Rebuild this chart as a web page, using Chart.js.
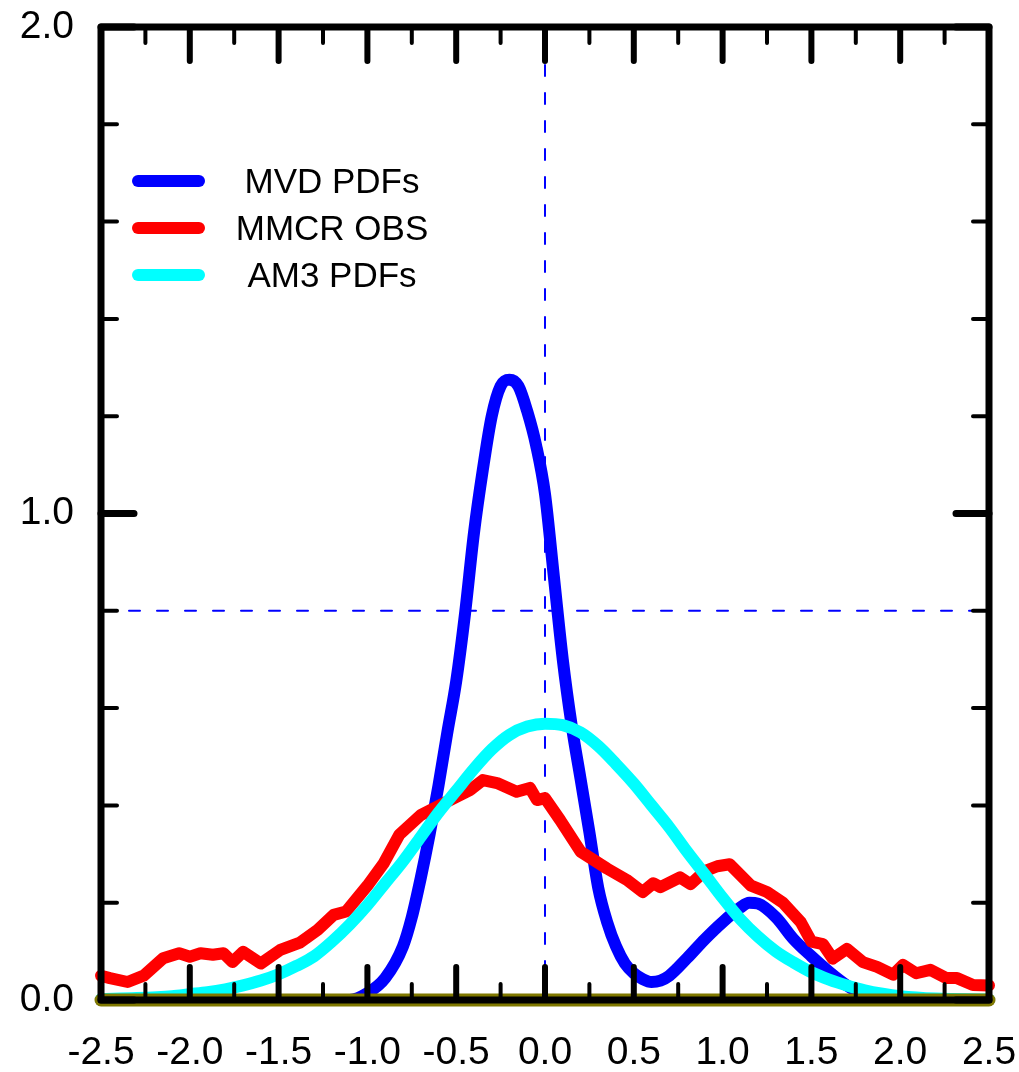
<!DOCTYPE html>
<html>
<head>
<meta charset="utf-8">
<script src="https://cdn.jsdelivr.net/npm/chart.js@4.4.0/dist/chart.umd.min.js"></script>
<style>
    body { margin: 0; background: #ffffff; }
    canvas { display: block; }
</style>
</head>
<body>
<canvas id="chartPdfs" width="1019" height="1072"></canvas>
<script>
// datos
const mvdX = [-2.5, -1.5, -1.1, -1.0, -0.9, -0.8, -0.75, -0.7, -0.65, -0.6, -0.55, -0.5, -0.45, -0.4, -0.35, -0.3, -0.25, -0.2, -0.15, -0.1, -0.05, 0.0, 0.05, 0.1, 0.15, 0.2, 0.25, 0.3, 0.35, 0.4, 0.45, 0.5, 0.55, 0.6, 0.65, 0.7, 0.8, 0.9, 1.0, 1.1, 1.15, 1.2, 1.3, 1.4, 1.5, 1.6, 1.7, 1.8, 1.9, 2.5];
const mvdY = [0, 0, 0, 0.014, 0.045, 0.11, 0.17, 0.25, 0.34, 0.44, 0.55, 0.655, 0.795, 0.96, 1.09, 1.2, 1.262, 1.275, 1.262, 1.21, 1.14, 1.04, 0.87, 0.70, 0.565, 0.455, 0.345, 0.23, 0.16, 0.11, 0.075, 0.055, 0.043, 0.037, 0.04, 0.05, 0.086, 0.125, 0.16, 0.19, 0.2, 0.198, 0.17, 0.125, 0.09, 0.058, 0.03, 0.01, 0, 0];

const mmcrX = [-2.5, -2.45, -2.35, -2.26, -2.15, -2.06, -2.0, -1.94, -1.87, -1.81, -1.76, -1.70, -1.60, -1.49, -1.38, -1.28, -1.19, -1.12, -1.0, -0.91, -0.82, -0.70, -0.62, -0.535, -0.42, -0.35, -0.27, -0.16, -0.085, -0.045, 0.0, 0.085, 0.2, 0.35, 0.46, 0.55, 0.61, 0.65, 0.76, 0.82, 0.9, 0.97, 1.04, 1.16, 1.25, 1.34, 1.44, 1.50, 1.565, 1.62, 1.70, 1.79, 1.87, 1.96, 2.015, 2.09, 2.17, 2.26, 2.32, 2.41, 2.5];
const mmcrY = [0.05, 0.045, 0.037, 0.05, 0.086, 0.096, 0.089, 0.096, 0.093, 0.096, 0.078, 0.099, 0.075, 0.103, 0.118, 0.144, 0.175, 0.182, 0.235, 0.28, 0.34, 0.38, 0.395, 0.411, 0.432, 0.452, 0.446, 0.428, 0.436, 0.411, 0.415, 0.37, 0.305, 0.27, 0.247, 0.222, 0.24, 0.232, 0.252, 0.238, 0.265, 0.275, 0.279, 0.235, 0.222, 0.2, 0.16, 0.12, 0.115, 0.085, 0.105, 0.078, 0.068, 0.052, 0.072, 0.055, 0.062, 0.045, 0.045, 0.031, 0.03];

const am3X = [-2.5, -2.3, -2.1, -2.0, -1.9, -1.8, -1.7, -1.6, -1.5, -1.4, -1.3, -1.2, -1.1, -1.0, -0.9, -0.8, -0.7, -0.6, -0.5, -0.4, -0.3, -0.2, -0.1, 0.0, 0.1, 0.2, 0.3, 0.4, 0.5, 0.6, 0.7, 0.8, 0.9, 1.0, 1.1, 1.2, 1.3, 1.4, 1.5, 1.6, 1.7, 1.8, 1.9, 2.0, 2.2, 2.5];
const am3Y = [0.002, 0.004, 0.008, 0.012, 0.016, 0.022, 0.03, 0.04, 0.053, 0.07, 0.09, 0.12, 0.155, 0.195, 0.24, 0.285, 0.335, 0.385, 0.43, 0.475, 0.515, 0.545, 0.562, 0.568, 0.565, 0.55, 0.522, 0.485, 0.445, 0.40, 0.355, 0.305, 0.258, 0.21, 0.166, 0.13, 0.10, 0.077, 0.057, 0.042, 0.03, 0.02, 0.013, 0.008, 0.003, 0.001];

const baseX = [-2.5, 2.5];
const baseY = [0, 0];

const refX = 0.0;
const refY = 0.8;

const xTicks = [-2.5, -2.0, -1.5, -1.0, -0.5, 0.0, 0.5, 1.0, 1.5, 2.0, 2.5];
const xMinor = [-2.25, -1.75, -1.25, -0.75, -0.25, 0.25, 0.75, 1.25, 1.75, 2.25];
const yTicks = [0.0, 1.0, 2.0];
const yMinor = [0.2, 0.4, 0.6, 0.8, 1.2, 1.4, 1.6, 1.8];

const ordenLeyenda = ['MVD PDFs', 'MMCR OBS', 'AM3 PDFs'];

const toPoints = (xs, ys) => xs.map((x, i) => ({ x: x, y: ys[i] }));

const fuente = "'Liberation Sans', Arial, sans-serif";

// marco, marcas y leyenda como en la figura original
const marcoPlugin = {
    id: 'marco',
    afterDatasetsDraw(chart) {
        const ctx = chart.ctx;
        const area = chart.chartArea;
        const sx = chart.scales.x;
        const sy = chart.scales.y;

        ctx.save();
        ctx.strokeStyle = '#000000';
        ctx.lineCap = 'round';

        // marcas del eje x (abajo y arriba)
        xTicks.forEach((v) => {
            const px = sx.getPixelForValue(v);
            ctx.lineWidth = 6;
            ctx.beginPath();
            ctx.moveTo(px, area.bottom); ctx.lineTo(px, area.bottom - 33);
            ctx.moveTo(px, area.top); ctx.lineTo(px, area.top + 34);
            ctx.stroke();
        });
        xMinor.forEach((v) => {
            const px = sx.getPixelForValue(v);
            ctx.lineWidth = 4;
            ctx.beginPath();
            ctx.moveTo(px, area.bottom); ctx.lineTo(px, area.bottom - 16);
            ctx.moveTo(px, area.top); ctx.lineTo(px, area.top + 16);
            ctx.stroke();
        });
        // marcas del eje y (izquierda y derecha)
        yTicks.forEach((v) => {
            const py = sy.getPixelForValue(v);
            ctx.lineWidth = 7;
            ctx.beginPath();
            ctx.moveTo(area.left, py); ctx.lineTo(area.left + 33, py);
            ctx.moveTo(area.right, py); ctx.lineTo(area.right - 33, py);
            ctx.stroke();
        });
        yMinor.forEach((v) => {
            const py = sy.getPixelForValue(v);
            ctx.lineWidth = 4;
            ctx.beginPath();
            ctx.moveTo(area.left, py); ctx.lineTo(area.left + 16, py);
            ctx.moveTo(area.right, py); ctx.lineTo(area.right - 16, py);
            ctx.stroke();
        });

        // marco
        ctx.lineWidth = 7;
        ctx.lineJoin = 'round';
        ctx.strokeRect(area.left, area.top, area.right - area.left, area.bottom - area.top);

        // leyenda
        ctx.font = '35px ' + fuente;
        ctx.textAlign = 'center';
        ctx.textBaseline = 'middle';
        ordenLeyenda.forEach((nombre, i) => {
            const d = chart.data.datasets.find((item) => item.label === nombre);
            const y = 181 + i * 47;
            ctx.strokeStyle = d.borderColor;
            ctx.lineWidth = 12;
            ctx.lineCap = 'round';
            ctx.beginPath();
            ctx.moveTo(138, y);
            ctx.lineTo(199, y);
            ctx.stroke();
            ctx.fillStyle = '#000000';
            ctx.fillText(d.label, 332, y + 2);
        });
        ctx.restore();
    }
};

const data = {
    datasets: [
        {
            label: 'base',
            data: toPoints(baseX, baseY),
            borderColor: '#7f7800',
            borderWidth: 13,
            order: 0
        },
        {
            label: 'AM3 PDFs',
            data: toPoints(am3X, am3Y),
            borderColor: '#00ffff',
            borderWidth: 12,
            cubicInterpolationMode: 'monotone',
            order: 1
        },
        {
            label: 'MMCR OBS',
            data: toPoints(mmcrX, mmcrY),
            borderColor: '#ff0000',
            borderWidth: 12,
            tension: 0,
            order: 2
        },
        {
            label: 'MVD PDFs',
            data: toPoints(mvdX, mvdY),
            borderColor: '#0000ff',
            borderWidth: 12,
            cubicInterpolationMode: 'monotone',
            order: 3
        },
        {
            label: 'refY',
            data: toPoints([-2.5, 2.5], [refY, refY]),
            borderColor: '#0000ff',
            borderWidth: 2,
            borderDash: [11, 17],
            order: 5
        },
        {
            label: 'refX',
            data: toPoints([refX, refX], [0, 2]),
            borderColor: '#0000ff',
            borderWidth: 2,
            borderDash: [11, 17],
            order: 6
        }
    ]
};

const config = {
    type: 'line',
    data: data,
    options: {
        responsive: false,
        animation: false,
        events: [],
        layout: { padding: { left: 0, right: 30, top: 27, bottom: 0 } },
        elements: {
            point: { radius: 0 },
            line: { borderCapStyle: 'round', borderJoinStyle: 'round', fill: false }
        },
        datasets: { line: { clip: false } },
        plugins: {
            legend: { display: false },
            tooltip: { enabled: false }
        },
        scales: {
            x: {
                type: 'linear',
                min: -2.5,
                max: 2.5,
                grid: { display: false },
                border: { display: false },
                afterBuildTicks: (scale) => { scale.ticks = xTicks.map((v) => ({ value: v })); },
                afterFit: (scale) => {
                    scale.height = 72;
                    scale.paddingLeft = 0;
                    scale.paddingRight = 0;
                },
                ticks: {
                    autoSkip: false,
                    maxRotation: 0,
                    padding: 22,
                    color: '#000000',
                    font: { family: fuente, size: 39 },
                    callback: (v) => Number(v).toFixed(1)
                }
            },
            y: {
                type: 'linear',
                min: 0,
                max: 2,
                grid: { display: false },
                border: { display: false },
                afterBuildTicks: (scale) => { scale.ticks = yTicks.map((v) => ({ value: v })); },
                afterFit: (scale) => {
                    scale.width = 101;
                    scale.paddingTop = 0;
                    scale.paddingBottom = 0;
                },
                ticks: {
                    padding: 19,
                    color: '#000000',
                    font: { family: fuente, size: 39 },
                    callback: (v) => Number(v).toFixed(1)
                }
            }
        }
    },
    plugins: [marcoPlugin]
};

const canvasPdfs = document.getElementById('chartPdfs');
const graficoPdfs = new Chart(canvasPdfs, config);
</script>
</body>
</html>
